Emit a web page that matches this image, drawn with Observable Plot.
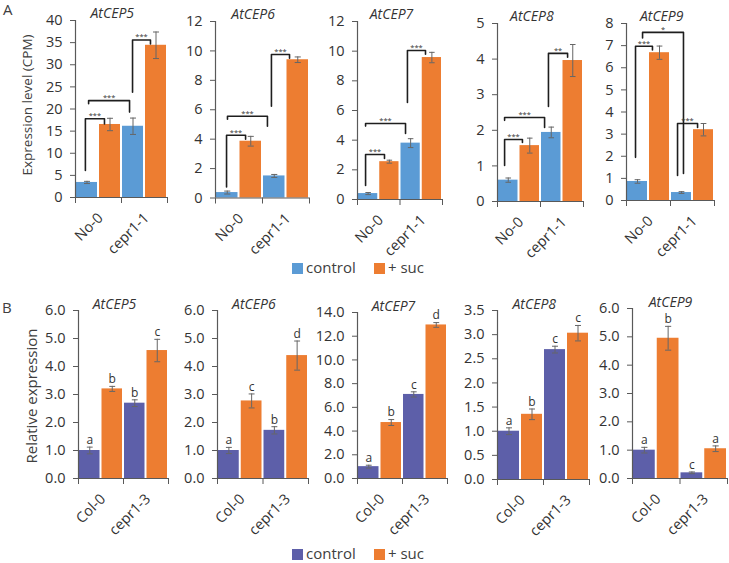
<!DOCTYPE html>
<html><head><meta charset="utf-8">
<script src="https://cdn.jsdelivr.net/npm/d3@7"></script>
<script src="https://cdn.jsdelivr.net/npm/@observablehq/plot@0.6"></script>
<style>
body{margin:0;background:#fff;}
#fig{position:relative;width:729px;height:563px;font-family:"Open Sans",sans-serif;color:#404040;overflow:hidden;background:#fff}
.lab{position:absolute;white-space:nowrap;line-height:1.1}
.rot{position:absolute;white-space:nowrap;line-height:1.2;transform:translate(-50%,-50%) rotate(-90deg)}
.sw{position:absolute;width:11px;height:11px}
</style></head><body><div id="fig"></div>
<script>
// ---------- data ----------
const genes = ["AtCEP5","AtCEP6","AtCEP7","AtCEP8","AtCEP9"];
const treatments = ["control","+ suc"];
const genotypesA = ["No-0","cepr1-1"];
const genotypesB = ["Col-0","cepr1-3"];
// bar order: genotype1-control, genotype1-suc, genotype2-control, genotype2-suc
const cep5A = [3.4, 16.5, 16.1, 34.4],  cep5AErr = [0.25, 1.4, 1.85, 3.0];
const cep6A = [0.37, 3.86, 1.5, 9.4],   cep6AErr = [0.1, 0.33, 0.1, 0.19];
const cep7A = [0.4, 2.55, 3.8, 9.57],   cep7AErr = [0.07, 0.1, 0.3, 0.35];
const cep8A = [0.6, 1.57, 1.94, 3.96],  cep8AErr = [0.06, 0.21, 0.15, 0.45];
const cep9A = [0.86, 6.68, 0.36, 3.2],  cep9AErr = [0.08, 0.3, 0.04, 0.28];
const cep5B = [1.0, 3.2, 2.69, 4.57],   cep5BErr = [0.12, 0.09, 0.12, 0.4];
const cep6B = [1.0, 2.77, 1.72, 4.39],  cep6BErr = [0.11, 0.25, 0.13, 0.52];
const cep7B = [1.0, 4.72, 7.09, 12.95], cep7BErr = [0.12, 0.25, 0.22, 0.2];
const cep8B = [1.0, 1.35, 2.69, 3.03],  cep8BErr = [0.07, 0.11, 0.07, 0.16];
const cep9B = [1.0, 4.95, 0.2, 1.05],   cep9BErr = [0.1, 0.42, 0.03, 0.1];
const letters5B = ["a","b","b","c"];
const letters6B = ["a","c","b","d"];
const letters7B = ["a","b","c","d"];
const letters8B = ["a","b","c","c"];
const letters9B = ["a","b","c","a"];
// significance brackets: [from bar, to bar, level, from-leg end, to-leg end, label]
const brackets5A = [[0.43,1.26,17.8,6.1,16.6,"***"],[0.57,2.35,21.9,21.2,19.3,"***"],[2.48,3.26,35.6,23.8,34.7,"***"]];
const brackets6A = [[0.47,1.28,4.27,0.75,4.0,"***"],[0.51,2.21,5.56,5.35,4.88,"***"],[2.38,3.15,9.76,6.24,9.5,"***"]];
const brackets7A = [[0.38,1.27,3.03,0.94,2.76,"***"],[0.38,2.26,5.12,4.95,4.45,"***"],[2.35,3.2,10.05,6.54,9.8,"***"]];
const brackets8A = [[0.33,1.16,1.74,1.01,1.66,"***"],[0.33,2.19,2.36,2.28,2.08,"***"],[2.37,3.26,4.16,2.67,4.05,"**"]];
const brackets9A = [[0.41,1.18,6.97,1.95,6.8,"***"],[0.73,2.59,7.6,7.35,1.22,"*"],[2.32,3.23,3.48,1.13,3.3,"***"]];
// y axis ticks
const ticks5A = [0,5,10,15,20,25,30,35,40];
const ticks6A = [0,2,4,6,8,10,12];
const ticks7A = [0,2,4,6,8,10,12];
const ticks8A = [0,1,2,3,4,5];
const ticks9A = [0,1,2,3,4,5,6,7,8];
const ticks5B = [0,1,2,3,4,5,6];
const ticks6B = [0,1,2,3,4,5,6];
const ticks7B = [0,2,4,6,8,10,12,14];
const ticks8B = [0,0.5,1,1.5,2,2.5,3,3.5];
const ticks9B = [0,1,2,3,4,5,6];

// ---------- layout / style ----------
const colorsA = ["#5b9bd5", "#ed7d31"];
const colorsB = ["#5d5fa9", "#ed7d31"];
const framesA = [{l:75,r:167,t:20,b:197},{l:215,r:309,t:20.5,b:197},{l:357,r:442,t:21,b:199},{l:497,r:583,t:23,b:201},{l:626,r:714,t:23,b:200}];
const framesB = [{l:78,r:168,t:310,b:478},{l:217,r:308,t:310,b:478},{l:357,r:447,t:312,b:478},{l:497,r:589,t:310,b:479},{l:632,r:727,t:308,b:478}];
const FONT = "Open Sans";
const fig = document.getElementById("fig");

function panel(o){
  const mL=62, mR=6, mT=40, mB=75;
  const f=o.frame;
  const W=f.r-f.l+mL+mR, H=f.b-f.t+mT+mB;
  const ymax=o.ticks[o.ticks.length-1];
  const bars=o.means.map((v,k)=>({k, v, e:o.errs[k], t:treatments[k%2]}));
  const groups=o.genotypes.map((g,i)=>({g, c:2*i+1}));
  const marks=[
    Plot.rectY(bars,{x1:d=>d.k,x2:d=>d.k+1,y1:0,y2:"v",fill:"t",insetLeft:1,insetRight:1}),
    Plot.ruleX(bars,{x:d=>d.k+0.5,y1:d=>d.v-d.e,y2:d=>d.v+d.e,stroke:"#666",strokeWidth:1}),
    Plot.link(bars,{x1:d=>d.k+0.37,x2:d=>d.k+0.63,y1:d=>d.v+d.e,y2:d=>d.v+d.e,stroke:"#666",strokeWidth:1}),
    Plot.link(bars,{x1:d=>d.k+0.37,x2:d=>d.k+0.63,y1:d=>d.v-d.e,y2:d=>d.v-d.e,stroke:"#666",strokeWidth:1}),
    Plot.ruleX([0],{y1:0,y2:ymax,stroke:"#595959",strokeWidth:1.2}),
    Plot.ruleY([0],{x1:0,x2:4,stroke:"#595959",strokeWidth:1.2}),
    Plot.axisY(o.ticks,{tickSize:5,tickPadding:8,tickFormat:o.fmt,fontSize:14.5,stroke:"#595959",fill:"#333",label:null}),
    Plot.axisX([0,2,4],{tickSize:6,tickFormat:()=>"",stroke:"#595959",label:null}),
    Plot.text(groups,{x:"c",y:()=>0,text:"g",rotate:-45,textAnchor:"end",dx:2,dy:18,fontSize:14.5,fill:"#333"}),
    Plot.text([o.gene],{x:()=>1.6,y:()=>ymax,text:d=>d,dy:o.titleDy,fontSize:14,fontStyle:"italic",fill:"#333"})
  ];
  if(o.letters){
    marks.push(Plot.text(bars,{x:d=>d.k+0.5,y:d=>d.v+d.e,text:(d)=>o.letters[d.k],dy:-7,fontSize:12,fill:"#333"}));
  }
  if(o.brackets){
    const pts=[];
    o.brackets.forEach((b,i)=>{pts.push({i,x:b[0],y:b[3]},{i,x:b[0],y:b[2]},{i,x:b[1],y:b[2]},{i,x:b[1],y:b[4]});});
    marks.push(Plot.line(pts,{x:"x",y:"y",z:"i",stroke:"#1e1e1e",strokeWidth:1.6}));
    marks.push(Plot.text(o.brackets,{x:b=>(b[0]+b[1])/2,y:b=>b[2],text:b=>b[5],dy:-3,fontSize:7.5,fill:"#333"}));
  }
  const p=Plot.plot({
    width:W,height:H,marginLeft:mL,marginRight:mR,marginTop:mT,marginBottom:mB,
    x:{domain:[0,4],axis:null,label:null},
    y:{domain:[0,ymax],axis:null,label:null},
    color:{domain:treatments,range:o.colors},
    style:{background:"transparent",overflow:"visible",fontFamily:FONT,color:"#333"},
    marks
  });
  p.style.position="absolute";
  p.style.left=(f.l-mL)+"px";
  p.style.top=(f.t-mT)+"px";
  fig.appendChild(p);
}

const fmtInt=d=>d3.format("d")(d);
const fmt1=d=>d3.format(".1f")(d);
const aMeans=[cep5A,cep6A,cep7A,cep8A,cep9A], aErrs=[cep5AErr,cep6AErr,cep7AErr,cep8AErr,cep9AErr];
const aTicks=[ticks5A,ticks6A,ticks7A,ticks8A,ticks9A], aBr=[brackets5A,brackets6A,brackets7A,brackets8A,brackets9A];
const bMeans=[cep5B,cep6B,cep7B,cep8B,cep9B], bErrs=[cep5BErr,cep6BErr,cep7BErr,cep8BErr,cep9BErr];
const bTicks=[ticks5B,ticks6B,ticks7B,ticks8B,ticks9B], bLet=[letters5B,letters6B,letters7B,letters8B,letters9B];
genes.forEach((g,i)=>{
  panel({frame:framesA[i],gene:g,means:aMeans[i],errs:aErrs[i],ticks:aTicks[i],fmt:fmtInt,genotypes:genotypesA,colors:colorsA,brackets:aBr[i],titleDy:-7});
  panel({frame:framesB[i],gene:g,means:bMeans[i],errs:bErrs[i],ticks:bTicks[i],fmt:fmt1,genotypes:genotypesB,colors:colorsB,letters:bLet[i],titleDy:-6});
});

function addLabel(text,x,y,size,cls){
  const d=document.createElement("div");d.className=cls||"lab";d.textContent=text;
  d.style.left=x+"px";d.style.top=y+"px";d.style.fontSize=size+"px";fig.appendChild(d);return d;
}
addLabel("A",3,1,15);
addLabel("B",2,299,15);
addLabel("Expression level (CPM)",27,105,13.5,"rot");
addLabel("Relative expression",31,396,15,"rot");
function legend(y,colors){
  treatments.forEach((t,i)=>{
    const sq=document.createElement("div");sq.className="sw";
    sq.style.left=[292,374][i]+"px";sq.style.top=(y-5.5)+"px";sq.style.background=colors[i];fig.appendChild(sq);
    addLabel(t,[306,388][i],y-9,15);
  });
}
legend(268,colorsA);
legend(554,colorsB);
</script></body></html>
